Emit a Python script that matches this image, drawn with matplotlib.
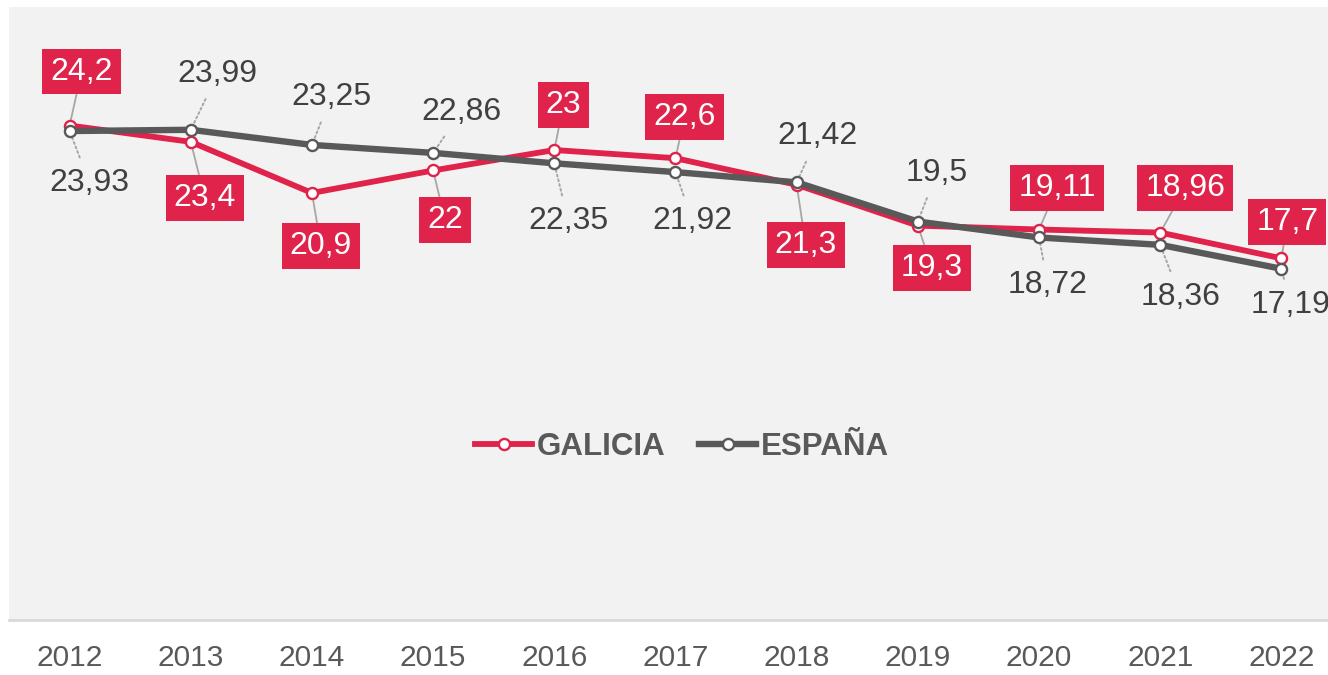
import matplotlib
matplotlib.use("Agg")
import matplotlib.pyplot as plt

plt.rcParams['font.family'] = ['Liberation Sans', 'DejaVu Sans']

years = ['2012', '2013', '2014', '2015', '2016', '2017', '2018', '2019', '2020', '2021', '2022']
galicia = [24.2, 23.4, 20.9, 22, 23, 22.6, 21.3, 19.3, 19.11, 18.96, 17.7]
espana = [23.93, 23.99, 23.25, 22.86, 22.35, 21.92, 21.42, 19.5, 18.72, 18.36, 17.19]

# label offsets in pixels (dx, dy downwards)
gal_off = [(12, -54), (14, 56), (9, 53), (12, 50), (9, -45), (9, -41),
           (9, 60), (14, 42), (18, -42), (25, -45), (6, -36)]
esp_off = [(20, 52), (27, -56), (19, -48), (28, -41), (14, 58), (17, 49),
           (21, -46), (19, -49), (9, 48), (20, 52), (9, 36)]

RED = '#e0234a'
GREY = '#595959'

fig = plt.figure(figsize=(13.28, 6.75), dpi=100)
W, H = 1328, 675
# axes runs a bit past the right edge, as in the original crop
ax = fig.add_axes([9 / W, 55 / H, 1333 / W, 613 / H])
ax.set_facecolor('#f2f2f2')

x = list(range(len(years)))


def fmt(v):
    return f"{v:g}".replace('.', ',')


ax.plot(x, galicia, color=RED, lw=4.2, marker='o', ms=8, mfc='white',
        mec=RED, mew=1.7, zorder=3, label='GALICIA', solid_joinstyle='round')
ax.plot(x, espana, color=GREY, lw=4.6, marker='o', ms=8, mfc='white',
        mec=GREY, mew=1.7, zorder=4, label='ESPAÑA', solid_joinstyle='round')

for i, v in enumerate(galicia):
    dx, dy = gal_off[i]
    ax.annotate(fmt(v), (i, v), xytext=(dx, -dy), textcoords='offset pixels',
                ha='center', va='center', fontsize=23, color='white',
                bbox=dict(boxstyle='square,pad=0.25', fc=RED, ec='none'),
                arrowprops=dict(arrowstyle='-', color='#a6a6a6', lw=1.3,
                                shrinkA=0, shrinkB=0),
                zorder=2, annotation_clip=False)

for i, v in enumerate(espana):
    dx, dy = esp_off[i]
    ax.annotate(fmt(v), (i, v), xytext=(dx, -dy), textcoords='offset pixels',
                ha='center', va='center', fontsize=23, color='#404040',
                arrowprops=dict(arrowstyle='-', color='#a6a6a6', lw=1.4,
                                linestyle=(0, (1, 1.5)), shrinkA=6, shrinkB=0),
                zorder=2, annotation_clip=False)

ax.set_xlim(-0.5, 10.5)
ax.set_ylim(0, 30)
ax.set_xticks(x)
ax.set_xticklabels(years, fontsize=21.5, color=GREY)
ax.set_yticks([])
ax.tick_params(axis='x', length=0, pad=17)
for s in ['top', 'left', 'right']:
    ax.spines[s].set_visible(False)
ax.spines['bottom'].set_color('#d9d9d9')
ax.spines['bottom'].set_linewidth(2)

leg = fig.legend(loc='center', bbox_to_anchor=(682 / W, 1 - 447 / H), ncol=2,
                 frameon=False, handlelength=1.8, handletextpad=0.15,
                 columnspacing=1.1, prop={'weight': 'bold', 'size': 22.5})
for t in leg.get_texts():
    t.set_color(GREY)

fig.savefig('out.png', dpi=100)
